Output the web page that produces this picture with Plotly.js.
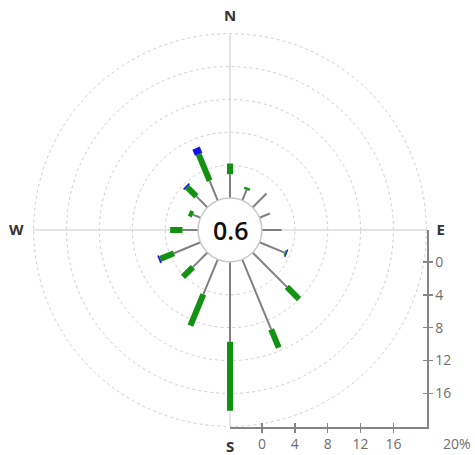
<!DOCTYPE html>
<html>
<head>
<meta charset="utf-8">
<script src="https://cdn.plot.ly/plotly-3.0.1.min.js"></script>
<style>html,body{margin:0;padding:0;background:#fff;}#chart{width:475px;height:455px;}</style>
</head>
<body>
<div id="chart"></div>
<script>
// ---- data ----
var directions = ['N','NNE','NE','ENE','E','ESE','SE','SSE','S','SSW','SW','WSW','W','WNW','NW','NNW'];
var angles = [0,22.5,45,67.5,90,112.5,135,157.5,180,202.5,225,247.5,270,292.5,315,337.5];
// frequency (%) per speed class, per direction
var speedLow  = [2.9,1.4,2.4,1.35,2.4,3.3,5.9,9.2,9.7,4.6,2.5,3.5,1.9,1.0,1.9,2.6];
var speedMid  = [1.3,0.3,0,0,0,0.15,2.1,2.4,8.4,4.1,1.7,1.8,1.5,0.5,1.6,3.5];
var speedHigh = [0,0,0,0,0,0.15,0,0,0,0,0,0.2,0,0,0.2,0.8];
var calm = 0.6;
var compassVals = [0,90,180,270];
var compassText = ['N','E','S','W'];
var ringVals = [4,8,12,16,20];
var scaleTicks = [0,4,8,12,16];
var scaleEndLabel = '20%';

// ---- build ----
var hole = 0.162;
var rMax = 20;
var rTop = 20.08;
var lo = rTop*hole/(1-hole);

function segTrace(starts, lens, color, width) {
  var r = [], th = [];
  for (var i = 0; i < lens.length; i++) {
    if (lens[i] <= 0) continue;
    r.push(starts[i], starts[i] + lens[i], null);
    th.push(angles[i], angles[i], null);
  }
  return {type:'scatterpolar', mode:'lines', r:r, theta:th,
          line:{color:color, width:width}, hoverinfo:'skip', showlegend:false};
}
var zeros = speedLow.map(function(){return 0;});
var cum1 = speedLow.slice();
var cum2 = speedLow.map(function(v,i){return v + speedMid[i];});

var traces = [
  segTrace(zeros, speedLow, '#808080', 2),
  segTrace(cum1, speedMid, '#129112', 6),
  segTrace(cum2, speedHigh, '#1515e6', 8),
  {type:'scatter', x:[], y:[], xaxis:'x', yaxis:'y', showlegend:false, hoverinfo:'skip'},
  {type:'scatter', x:[], y:[], xaxis:'x2', yaxis:'y2', showlegend:false, hoverinfo:'skip'}
];

var axCol = '#858585';
var tickFont = {family:'Open Sans, Noto Sans, sans-serif', size:14, color:'#6e6e6e'};
// outer ring radius as paper fraction (polar fills the square plot area)
var outerFrac = 0.5*(hole + (1-hole)*rMax/rTop);
var layout = {
  width:475, height:455,
  margin:{l:33, r:48, t:33, b:28},
  paper_bgcolor:'#ffffff', plot_bgcolor:'rgba(0,0,0,0)',
  showlegend:false,
  polar:{
    domain:{x:[0,1], y:[0,1]},
    hole: hole,
    bgcolor:'rgba(0,0,0,0)',
    radialaxis:{range:[0,rTop], tickvals:ringVals, showticklabels:false, ticks:'',
                showline:false, gridcolor:'#cfcfcf', griddash:'dot', gridwidth:1},
    angularaxis:{rotation:90, direction:'clockwise', tickvals:compassVals, ticktext:compassText,
                 showline:false, gridcolor:'#dcdcdc', gridwidth:1.5, ticks:'outside', ticklen:6,
                 tickcolor:'rgba(0,0,0,0)',
                 tickfont:{family:'Open Sans, Noto Sans, sans-serif', size:15, color:'#333', weight:'bold'}}
  },
  xaxis:{domain:[0.5,1], anchor:'y', range:[-lo, rTop], tickvals:scaleTicks, showgrid:false, zeroline:false,
         showline:true, linecolor:axCol, linewidth:1.5, ticks:'outside', ticklen:4, tickwidth:1.5,
         tickcolor:axCol, tickfont:tickFont, fixedrange:true},
  yaxis:{domain:[0,0.5], anchor:'x', side:'right', range:[rTop, -lo], tickvals:scaleTicks, showgrid:false,
         zeroline:false, showline:true, linecolor:axCol, linewidth:1.5, ticks:'outside', ticklen:4,
         tickwidth:1.5, tickcolor:axCol, tickfont:tickFont, fixedrange:true},
  xaxis2:{overlaying:'x', anchor:'y2', side:'bottom', range:[-lo, rTop], tickvals:scaleTicks, showgrid:false,
          zeroline:false, showline:false, ticks:'inside', ticklen:4, tickwidth:1.5, tickcolor:axCol,
          showticklabels:false, fixedrange:true},
  yaxis2:{overlaying:'y', anchor:'x2', side:'right', range:[rTop, -lo], tickvals:scaleTicks, showgrid:false,
          zeroline:false, showline:false, ticks:'inside', ticklen:4, tickwidth:1.5, tickcolor:axCol,
          showticklabels:false, fixedrange:true},
  shapes:[
    {type:'circle', xref:'paper', yref:'paper', layer:'below',
     x0:0.5-outerFrac, x1:0.5+outerFrac, y0:0.5-outerFrac, y1:0.5+outerFrac,
     line:{color:'#cfcfcf', width:1, dash:'dot'}, fillcolor:'rgba(0,0,0,0)'},
    {type:'circle', xref:'paper', yref:'paper', layer:'above',
     x0:0.5-hole/2, x1:0.5+hole/2, y0:0.5-hole/2, y1:0.5+hole/2,
     line:{color:'#c8c8c8', width:1.5}, fillcolor:'#ffffff'}
  ],
  annotations:[
    {xref:'paper', yref:'paper', x:0.5, y:0.5, text:String(calm), showarrow:false,
     font:{family:'Open Sans, Noto Sans, sans-serif', size:25, color:'#111', weight:600}, xanchor:'center', yanchor:'middle'},
    {xref:'paper', yref:'paper', x:1.075, y:0, yshift:-16, text:scaleEndLabel, showarrow:false,
     font:tickFont, xanchor:'center', yanchor:'middle'}
  ]
};
Plotly.newPlot('chart', traces, layout, {displayModeBar:false, staticPlot:true});
</script>
</body>
</html>
